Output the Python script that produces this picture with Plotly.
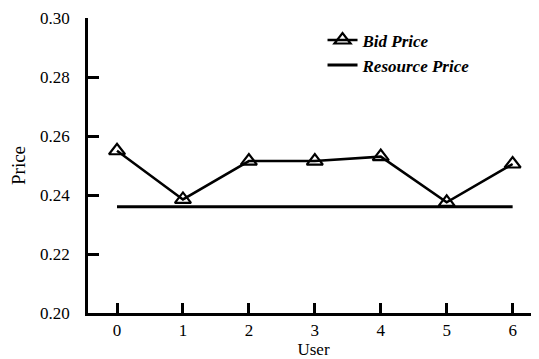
import plotly.graph_objects as go

users = [0, 1, 2, 3, 4, 5, 6]
bid_price = [0.255, 0.2385, 0.2515, 0.2515, 0.253, 0.2375, 0.2505]
resource_price = [0.236, 0.236, 0.236, 0.236, 0.236, 0.236, 0.236]
y_ticks = [0.20, 0.22, 0.24, 0.26, 0.28, 0.30]
y_tick_labels = ["0.20", "0.22", "0.24", "0.26", "0.28", "0.30"]

FONT = "Liberation Serif"

fig = go.Figure()
fig.add_trace(go.Scatter(
    x=users, y=bid_price, mode="lines+markers", name="<i><b>Bid Price</b></i>",
    line=dict(color="black", width=2.5),
    marker=dict(symbol="triangle-up-open", size=14, color="black", line=dict(width=2.2, color="black")),
))
fig.add_trace(go.Scatter(
    x=users, y=resource_price, mode="lines", name="<i><b>Resource Price</b></i>",
    line=dict(color="black", width=3),
))

# page body has an 8px margin, so the figure is 8px smaller than the window
fig.update_layout(
    width=531, height=351,
    margin=dict(l=80, r=0, t=10, b=46, autoexpand=False),
    paper_bgcolor="white", plot_bgcolor="white",
    font=dict(family=FONT, color="black", size=18),
    legend=dict(x=0.52, y=0.985, xanchor="left", yanchor="top",
                font=dict(family=FONT, size=17), bgcolor="rgba(0,0,0,0)",
                tracegroupgap=0),
    showlegend=True,
)
fig.update_xaxes(
    range=[-0.44, 6.4], tickvals=users, ticktext=[str(u) for u in users],
    showline=True, linecolor="black", linewidth=2.5, showgrid=False, zeroline=False,
    ticks="inside", ticklen=10, tickwidth=2.5, tickcolor="black",
    tickfont=dict(family=FONT, size=17, color="black"),
    ticklabeloverflow="allow", automargin=False,
    title=dict(text="User", font=dict(family=FONT, size=17), standoff=0),
)
fig.update_yaxes(
    range=[0.20, 0.30], tickvals=y_ticks, ticktext=y_tick_labels,
    showline=True, linecolor="black", linewidth=2.5, showgrid=False, zeroline=False,
    ticks="inside", ticklen=11, tickwidth=2.5, tickcolor="black",
    tickfont=dict(family=FONT, size=17, color="black"),
    ticklabelstandoff=12, ticklabeloverflow="allow", automargin=False,
    title=dict(text="Price", font=dict(family=FONT, size=19), standoff=10),
)

fig.write_html("out.html")
